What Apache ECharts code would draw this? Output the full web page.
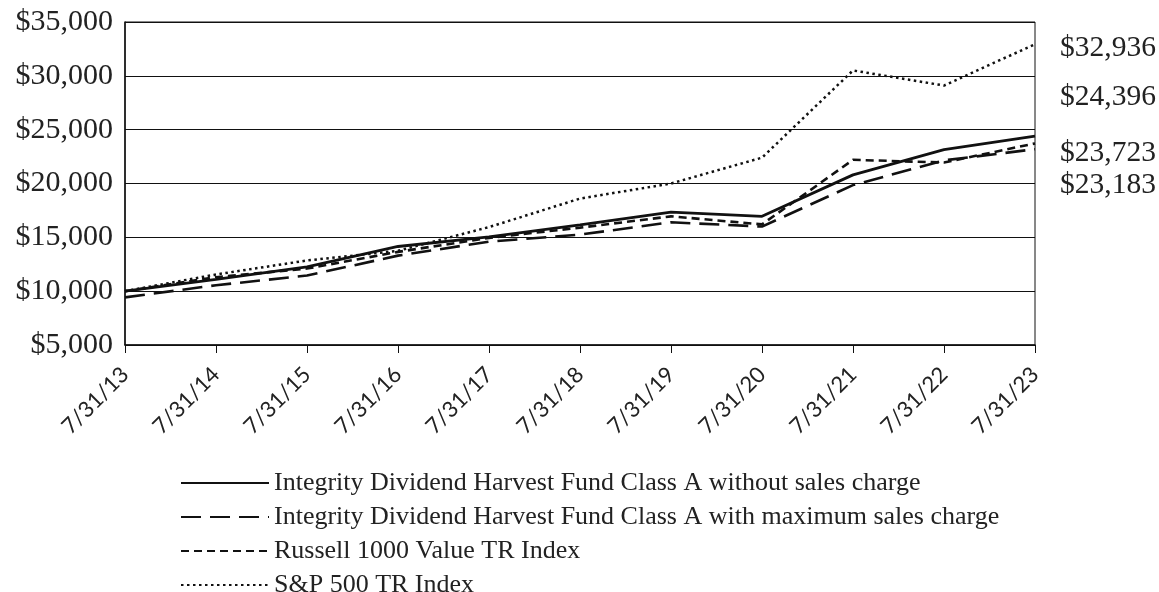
<!DOCTYPE html>
<html>
<head>
<meta charset="utf-8">
<script src="https://cdn.jsdelivr.net/npm/echarts@6/dist/echarts.min.js"></script>
<style>
html,body{margin:0;padding:0;background:#fff;}
#chart{width:1159px;height:592px;}
</style>
</head>
<body>
<div id="chart"></div>
<script>
var categories = ['7/31/13','7/31/14','7/31/15','7/31/16','7/31/17','7/31/18','7/31/19','7/31/20','7/31/21','7/31/22','7/31/23'];
var fundNoLoad = [10000, 11100, 12250, 14150, 15050, 16150, 17350, 16950, 20800, 23150, 24396];
var fundMaxLoad = [9425, 10550, 11450, 13300, 14600, 15250, 16400, 16000, 19850, 22150, 23183];
var russell1000Value = [10000, 11300, 12100, 13650, 14950, 15900, 16950, 16200, 22200, 21950, 23723];
var sp500 = [10000, 11550, 12850, 13750, 15950, 18600, 20000, 22400, 30500, 29100, 32936];
var yTicks = [5000, 10000, 15000, 20000, 25000, 30000, 35000];
var seriesNames = [
  'Integrity Dividend Harvest Fund Class A without sales charge',
  'Integrity Dividend Harvest Fund Class A with maximum sales charge',
  'Russell 1000 Value TR Index',
  'S&P 500 TR Index'
];

function money(v){ return '$' + Math.round(v).toLocaleString('en-US'); }

var serif = '"Liberation Serif", "Times New Roman", serif';
var chart = echarts.init(document.getElementById('chart'), null, {renderer:'canvas'});

function mk(name, data, lineStyle, labelOffsetY){
  return {
    name: name, type: 'line', data: data, symbol: 'none', animation: false,
    lineStyle: Object.assign({color:'#111', width:2.5}, lineStyle),
    itemStyle: {color:'#111'},
    endLabel: {
      show: true, distance: 5, offset: [20, labelOffsetY],
      formatter: function(p){ return money(p.value); },
      fontFamily: serif, fontSize: 29.5, color: '#222'
    }
  };
}

chart.setOption({
  backgroundColor: '#fff',
  animation: false,
  grid: {left: 125, right: 124, top: 22, bottom: 247, show: true, borderColor: '#111', borderWidth: 1},
  xAxis: {
    type: 'category', data: categories, boundaryGap: false,
    axisLine: {lineStyle: {color:'#111', width:1.5}},
    axisTick: {show:true, alignWithLabel:true, length:8, lineStyle:{color:'#111'}},
    axisLabel: {rotate: 45, fontFamily: 'Lato, sans-serif', fontSize: 22, color: '#222', margin: 26, interval: 0}
  },
  yAxis: {
    type: 'value', min: 5000, max: 35000, interval: 5000,
    axisLine: {show:true, lineStyle: {color:'#111', width:1.5}},
    axisTick: {show:false},
    splitLine: {lineStyle: {color:'#111', width:1.2}},
    axisLabel: {formatter: money, fontFamily: serif, fontSize: 30, color: '#222', margin: 12}
  },
  legend: {
    orient: 'vertical', left: 180, top: 470, height: 150, padding: 0,
    itemWidth: 88, itemHeight: 14, itemGap: 8,
    itemStyle: {opacity: 0},
    textStyle: {fontFamily: serif, fontSize: 26, color: '#222', lineHeight: 24},
    data: seriesNames
  },
  series: [
    mk(seriesNames[0], fundNoLoad, {type:'solid', width:2.8}, -39),
    mk(seriesNames[1], fundMaxLoad, {type:[20,9], width:2.6}, 36),
    mk(seriesNames[2], russell1000Value, {type:[8,5], width:2.6}, 10),
    mk(seriesNames[3], sp500, {type:[2.5,3.5], width:2.5}, 4)
  ]
});
</script>
</body>
</html>
